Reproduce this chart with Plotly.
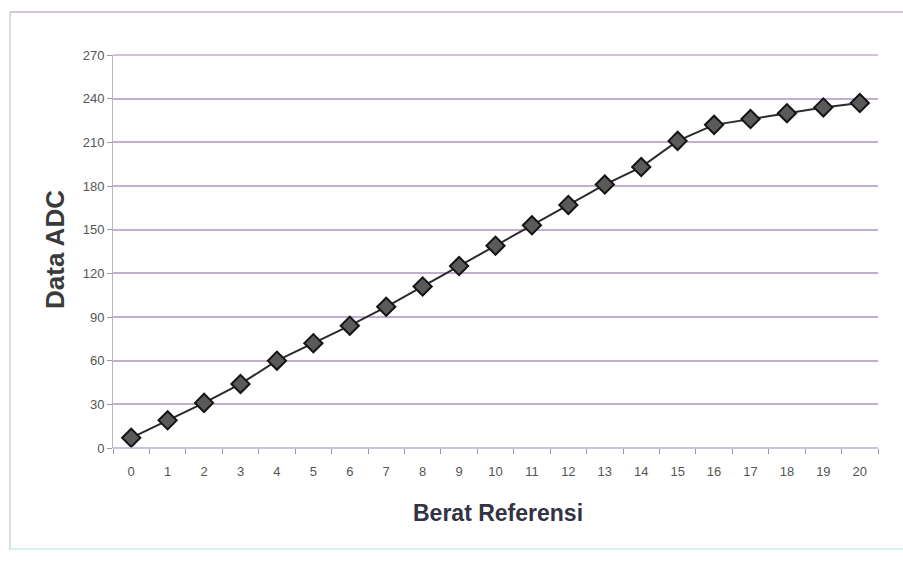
import plotly.graph_objects as go

berat = list(range(21))
adc = [7, 19, 31, 44, 60, 72, 84, 97, 111, 125, 139, 153, 167, 181, 193, 211, 222, 226, 230, 234, 237]
y_ticks = [0, 30, 60, 90, 120, 150, 180, 210, 240, 270]

FONT = "Liberation Sans, Arial, sans-serif"

fig = go.Figure()
fig.add_trace(go.Scatter(
    x=berat, y=adc, mode="lines+markers",
    line=dict(color="#2b2b2b", width=2),
    marker=dict(symbol="diamond", size=14, color="#5a5a5a",
                line=dict(color="#151515", width=2)),
    showlegend=False,
))

L, R, T, B = 113, 25, 55, 113
W, H = 903, 561
pw, ph = W - L - R, H - T - B

def px_x(p):
    return (p - L) / pw

def px_y(p):
    return (H - B - p) / ph

fig.update_layout(
    width=W, height=H,
    margin=dict(l=L, r=R, t=T, b=B),
    paper_bgcolor="white", plot_bgcolor="white",
    font=dict(family=FONT, color="#444"),
    xaxis=dict(
        range=[-0.5, 20.5], tickmode="array", tickvals=berat,
        ticktext=[str(b) for b in berat],
        ticks="", showgrid=False, zeroline=False,
        showline=False,
        tickfont=dict(size=13, color="#555", family=FONT),
        ticklabelstandoff=14,
        minor=dict(tick0=-0.5, dtick=1, ticks="outside", ticklen=5,
                   tickcolor="#9a9a9a", showgrid=False),
    ),
    yaxis=dict(
        range=[0, 270], tickmode="array", tickvals=y_ticks,
        ticks="outside", ticklen=5, tickcolor="#9a9a9a",
        showgrid=True, gridcolor="#c2aed0", gridwidth=1.5,
        zeroline=False, showline=True, linecolor="#b8b8b8", linewidth=1,
        tickfont=dict(size=13, color="#555", family=FONT),
    ),
    annotations=[
        dict(text="<b>Data ADC</b>", xref="paper", yref="paper",
             x=px_x(55), y=px_y(250), textangle=-90, showarrow=False,
             font=dict(size=26, color="#3a3a3a", family=FONT),
             xanchor="center", yanchor="middle"),
        dict(text="<b>Berat Referensi</b>", xref="paper", yref="paper",
             x=px_x(498), y=px_y(513), showarrow=False,
             font=dict(size=23, color="#333344", family=FONT),
             xanchor="center", yanchor="middle"),
    ],
    shapes=[
        dict(type="line", xref="paper", yref="paper",
             x0=px_x(10), x1=px_x(903), y0=px_y(12), y1=px_y(12),
             line=dict(color="#c4b4cc", width=1.5)),
        dict(type="line", xref="paper", yref="paper",
             x0=px_x(10), x1=px_x(10), y0=px_y(12), y1=px_y(550),
             line=dict(color="#d0d0d0", width=1.5)),
        dict(type="line", xref="paper", yref="paper",
             x0=px_x(10), x1=px_x(903), y0=px_y(549), y1=px_y(549),
             line=dict(color="#d6f0f4", width=2)),
        dict(type="line", xref="paper", yref="paper",
             x0=0, x1=1, y0=0, y1=0,
             line=dict(color="#b8aed0", width=1.5)),
        dict(type="line", xref="paper", yref="paper",
             x0=0, x1=1, y0=1, y1=1,
             line=dict(color="#c2aed0", width=1.5)),
    ],
)

fig.write_html("out.html", config={"displayModeBar": False},
               post_script="document.body.style.margin='0';")
